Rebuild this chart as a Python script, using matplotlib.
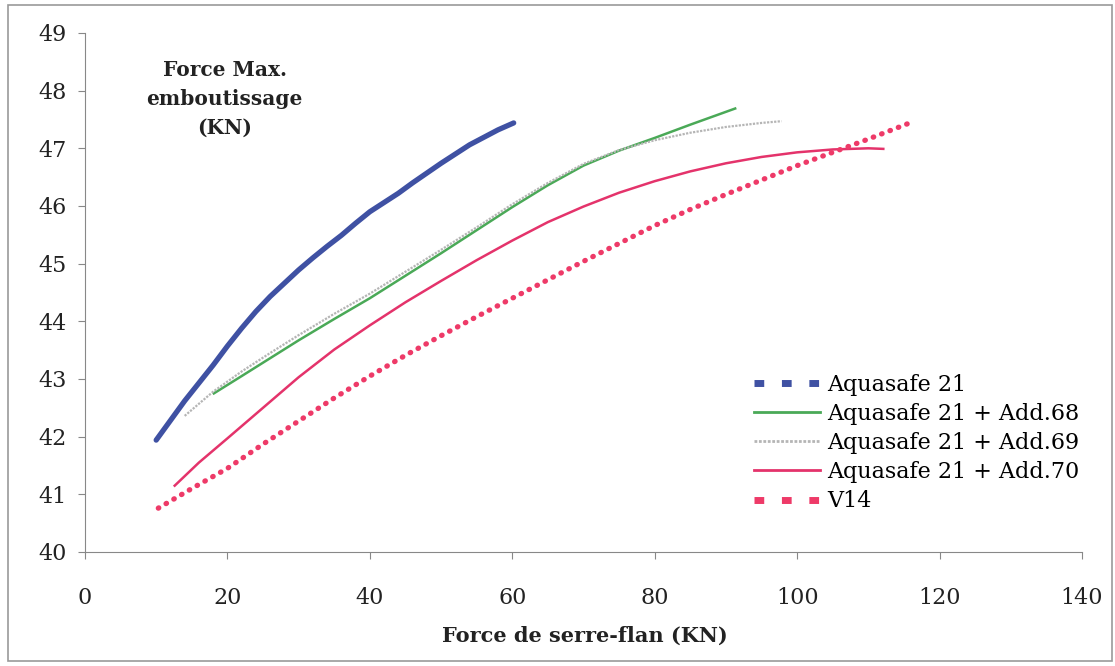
import matplotlib
matplotlib.use("Agg")
import matplotlib.pyplot as plt
from matplotlib.lines import Line2D
from matplotlib.patches import Rectangle

# values
aqua21_x = [10.0, 12, 14, 16, 18, 20, 22, 24, 26, 28, 30, 32, 34, 36, 38, 40,
            42, 44, 46, 48, 50, 52, 54, 56, 58, 60.2]
aqua21_y = [41.94, 42.28, 42.62, 42.93, 43.24, 43.57, 43.88, 44.17, 44.43, 44.66,
            44.89, 45.10, 45.30, 45.49, 45.70, 45.90, 46.06, 46.22, 46.40, 46.57,
            46.74, 46.90, 47.06, 47.19, 47.32, 47.44]

add68_x = [18.1, 22, 26, 30, 35, 40, 45, 50, 55, 60, 65, 70, 75, 80, 85, 91.3]
add68_y = [42.75, 43.05, 43.36, 43.67, 44.04, 44.40, 44.79, 45.18, 45.58, 45.98,
           46.36, 46.70, 46.96, 47.18, 47.41, 47.69]

add69_x = [14.0, 18, 22, 26, 30, 35, 40, 45, 50, 55, 60, 65, 70, 75, 80, 85, 90,
           95, 97.8]
add69_y = [42.36, 42.78, 43.13, 43.45, 43.76, 44.13, 44.48, 44.86, 45.24, 45.63,
           46.03, 46.40, 46.73, 46.97, 47.14, 47.27, 47.37, 47.44, 47.47]

add70_x = [12.6, 16, 20, 25, 30, 35, 40, 45, 50, 55, 60, 65, 70, 75, 80, 85, 90,
           95, 100, 105, 110, 112.1]
add70_y = [41.15, 41.55, 41.97, 42.50, 43.03, 43.51, 43.93, 44.33, 44.70, 45.06,
           45.40, 45.72, 45.99, 46.23, 46.43, 46.60, 46.74, 46.85, 46.93, 46.98,
           47.00, 46.99]

v14_x = [10.3, 15, 20, 25, 30, 35, 40, 45, 50, 55, 60, 65, 70, 75, 80, 85, 90,
         95, 100, 105, 110, 115.6]
v14_y = [40.76, 41.10, 41.45, 41.87, 42.27, 42.67, 43.05, 43.41, 43.75, 44.08,
         44.40, 44.72, 45.04, 45.35, 45.66, 45.94, 46.20, 46.45, 46.70, 46.93,
         47.16, 47.43]

labels = ["Aquasafe 21", "Aquasafe 21 + Add.68", "Aquasafe 21 + Add.69",
          "Aquasafe 21 + Add.70", "V14"]
colors = ["#3f51a3", "#4aa957", "#b5b5b5", "#e4336b", "#ee3a68"]

plt.rcParams['font.family'] = ['DejaVu Serif']

fig = plt.figure(figsize=(11.15, 6.66), dpi=100)
ax = fig.add_axes([0.0762, 0.1712, 0.8942, 0.7793])

ax.plot(aqua21_x, aqua21_y, color=colors[0], lw=3.8, solid_capstyle='round',
        solid_joinstyle='round')
ax.plot(add68_x, add68_y, color=colors[1], lw=1.8)
ax.plot(add69_x, add69_y, color=colors[2], lw=1.6, linestyle=(0, (1, 0.6)))
ax.plot(add70_x, add70_y, color=colors[3], lw=1.8)
ax.plot(v14_x, v14_y, color=colors[4], lw=3.8, linestyle=(0, (0.1, 1.6)),
        dash_capstyle='round')

ax.set_xlim(0, 140)
ax.set_ylim(40, 49)
ax.set_xticks(range(0, 141, 20))
ax.set_yticks(range(40, 50))
ax.tick_params(labelsize=16, direction='out', length=5, color='#888888',
               labelcolor='#222222')
ax.tick_params(axis='x', pad=20)
ax.tick_params(axis='y', pad=8)
for s in ['top', 'right']:
    ax.spines[s].set_visible(False)
for s in ['left', 'bottom']:
    ax.spines[s].set_color('#888888')

ax.text(0.14, 0.873, "Force Max.\nemboutissage\n(KN)", transform=ax.transAxes,
        ha='center', va='center', fontsize=14.5, fontweight='bold',
        linespacing=1.55, color='#222222')
fig.text(585 / 1115, 1 - 636 / 666, "Force de serre-flan (KN)", ha='center',
         va='center', fontsize=15, fontweight='bold', color='#222222')

handles = [
    Line2D([], [], color=colors[0], lw=5, linestyle=(0, (1.4, 2.55))),
    Line2D([], [], color=colors[1], lw=2),
    Line2D([], [], color=colors[2], lw=2, linestyle=(0, (1, 0.6))),
    Line2D([], [], color=colors[3], lw=2),
    Line2D([], [], color=colors[4], lw=5, linestyle=(0, (1.4, 2.55))),
]
ax.legend(handles, labels, loc='upper left', bbox_to_anchor=(0.668, 0.452),
          bbox_transform=fig.transFigure, frameon=False, fontsize=16,
          handlelength=3.0, handletextpad=0.3, labelspacing=0.32,
          borderaxespad=0)

fig.patches.append(Rectangle((0.007, 0.008), 0.990, 0.984, transform=fig.transFigure,
                             fill=False, edgecolor='#999999', lw=1.2))

fig.savefig("out.png", dpi=100)
